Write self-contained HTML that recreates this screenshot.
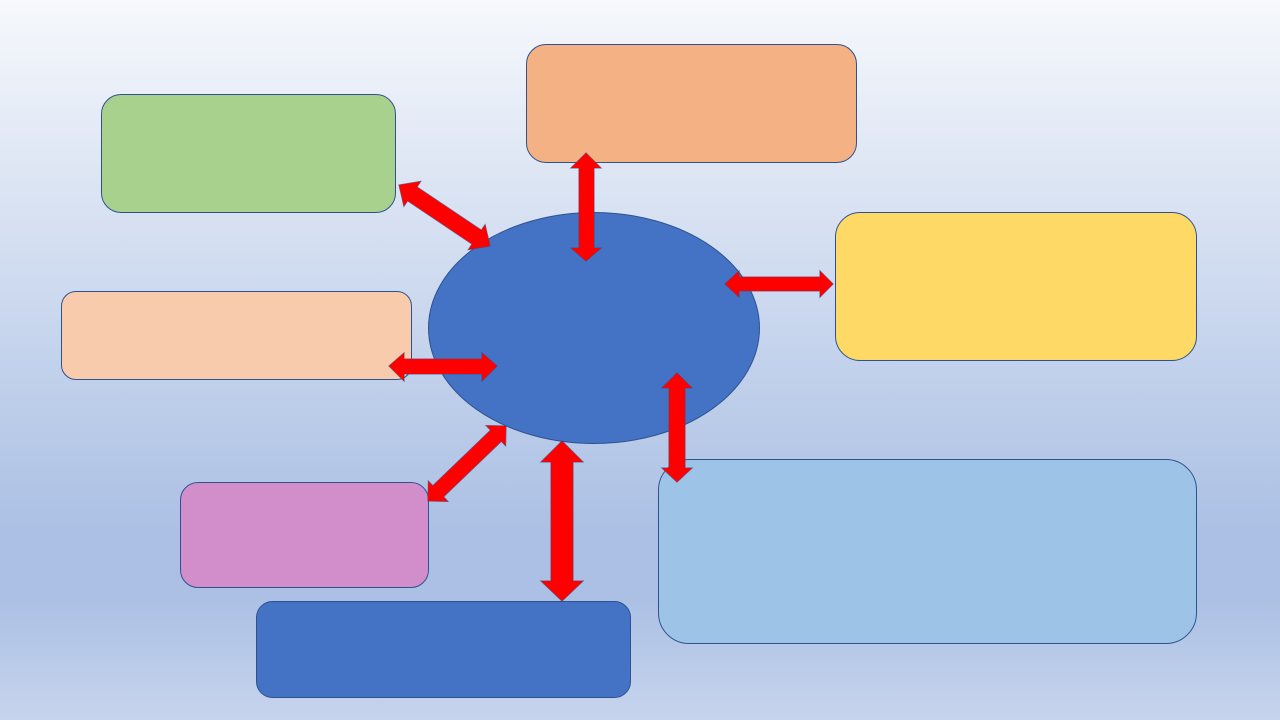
<!DOCTYPE html>
<html>
<head>
<meta charset="utf-8">
<style>
html,body{margin:0;padding:0;width:1280px;height:720px;overflow:hidden}
svg{display:block}
.b{stroke:#2F528F;stroke-width:1}
.a{fill:#FF0000;stroke:#2F528F;stroke-width:1.1;stroke-opacity:.8;stroke-linejoin:miter;paint-order:stroke}
</style>
</head>
<body>
<svg width="1280" height="720" viewBox="0 0 1280 720" xmlns="http://www.w3.org/2000/svg">
<defs>
<linearGradient id="bg" x1="0" y1="0" x2="0" y2="1">
<stop offset="0" stop-color="#F6F8FC"/>
<stop offset=".74" stop-color="#ABC0E4"/>
<stop offset=".83" stop-color="#ABC0E4"/>
<stop offset="1" stop-color="#C7D4ED"/>
</linearGradient>
</defs>
<rect width="1280" height="720" fill="url(#bg)"/>
<rect class="b" x="101.5" y="94.5" width="294" height="118" rx="19.5" fill="#A9D18E"/>
<rect class="b" x="526.5" y="44.5" width="330" height="118" rx="19.5" fill="#F4B183"/>
<rect class="b" x="835.5" y="212.5" width="361" height="148" rx="24.5" fill="#FFD966"/>
<rect class="b" x="61.5" y="291.5" width="350" height="88" rx="14.5" fill="#F8CBAD"/>
<rect class="b" x="180.5" y="482.5" width="248" height="105" rx="17.5" fill="#D28ECB"/>
<rect class="b" x="256.5" y="601.5" width="374" height="96" rx="16" fill="#4472C4"/>
<rect class="b" x="658.5" y="459.5" width="538" height="184" rx="30.5" fill="#9DC3E6"/>
<ellipse class="b" cx="594" cy="328" rx="165.5" ry="115.5" fill="#4472C4"/>
<polygon class="a" points="586,153 601,168 594,168 594,248 601,248 586,261 571,248 579,248 579,168 571,168"/>
<polygon class="a" points="562,441 583,462 573,462 573,581 583,581 562,601 541,581 551,581 551,462 541,462"/>
<polygon class="a" points="677,373 692,388 685,388 685,468 692,468 677,482 662,468 669,468 669,388 662,388"/>
<polygon class="a" points="725,284 739,271 739,277 820,277 820,271 833,284 820,297 820,291 739,291 739,297"/>
<polygon class="a" points="389,366 404,353 404,359 482,359 482,353 497,366 482,381 482,374 404,374 404,381"/>
<polygon class="a" points="399,185 420.7,181.4 417,187 481.4,230.2 485.1,224.7 490,246 468.4,249.6 472,244 407.6,200.8 403.9,206.3"/>
<polygon class="a" points="506,426 505.6,445.8 501.3,441.3 443.5,496.8 447.8,501.4 428,501 428.4,481.2 432.8,485.8 490.6,430.2 486.2,425.6"/>
</svg>
</body>
</html>
